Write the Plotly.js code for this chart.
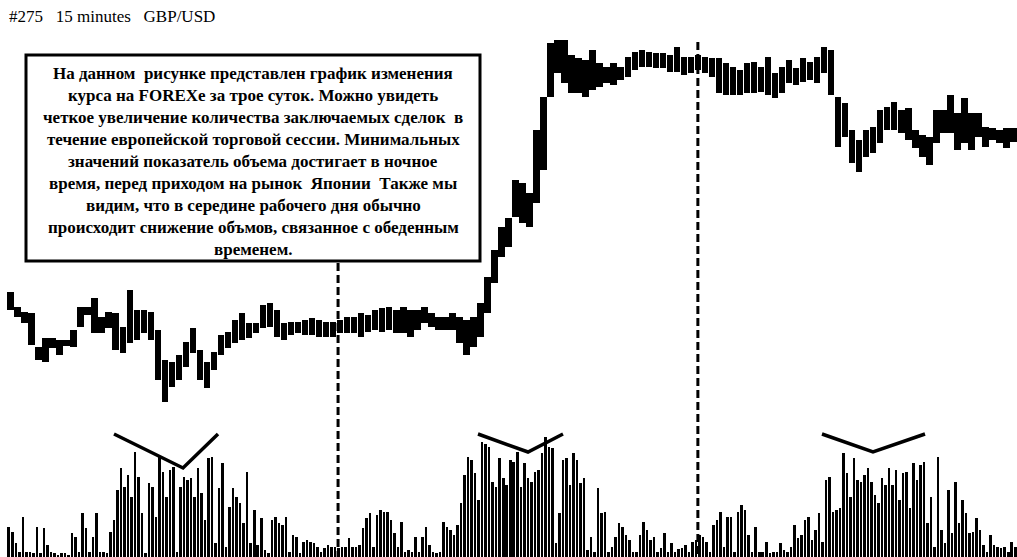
<!DOCTYPE html>
<html><head><meta charset="utf-8">
<script src="https://cdn.plot.ly/plotly-3.0.1.min.js"></script>
<style>html,body{margin:0;padding:0;background:#fff}#chart{width:1017px;height:557px}</style>
</head><body><div id="chart"></div>
<script>
// GBP/USD, 15-minute chart, three days (price sampled per 30 min, volume per 15 min)
const priceHigh = [
1.4508,1.4493,1.4488,1.4487,1.4453,1.4462,1.4462,1.4460,1.4460,1.4470,
1.4493,1.4493,1.4502,1.4483,1.4488,1.4487,1.4473,1.4510,1.4490,1.4490,
1.4488,1.4470,1.4440,1.4438,1.4445,1.4458,1.4472,1.4450,1.4438,1.4448,
1.4465,1.4468,1.4480,1.4487,1.4477,1.4477,1.4495,1.4497,1.4490,1.4477,
1.4478,1.4478,1.4480,1.4482,1.4480,1.4478,1.4478,1.4480,1.4483,1.4483,
1.4487,1.4485,1.4490,1.4492,1.4493,1.4490,1.4493,1.4490,1.4490,1.4493,
1.4487,1.4483,1.4483,1.4487,1.4483,1.4480,1.4483,1.4497,1.4523,1.4550,
1.4573,1.4582,1.4620,1.4617,1.4607,1.4670,1.4703,1.4757,1.4760,1.4760,
1.4745,1.4742,1.4740,1.4750,1.4737,1.4733,1.4737,1.4733,1.4743,1.4748,
1.4750,1.4748,1.4747,1.4747,1.4745,1.4753,1.4743,1.4743,1.4745,1.4743,
1.4742,1.4742,1.4737,1.4733,1.4730,1.4737,1.4738,1.4733,1.4743,1.4727,
1.4733,1.4740,1.4732,1.4742,1.4738,1.4743,1.4753,1.4750,1.4703,1.4697,
1.4670,1.4660,1.4670,1.4673,1.4690,1.4693,1.4698,1.4690,1.4692,1.4670,
1.4665,1.4663,1.4690,1.4690,1.4705,1.4687,1.4702,1.4687,1.4687,1.4673,
1.4672,1.4670,1.4672,1.4672];
const priceLow = [
1.4490,1.4483,1.4477,1.4455,1.4440,1.4438,1.4452,1.4445,1.4454,1.4453,
1.4473,1.4485,1.4467,1.4467,1.4472,1.4450,1.4447,1.4457,1.4460,1.4467,
1.4460,1.4420,1.4398,1.4413,1.4420,1.4433,1.4447,1.4420,1.4412,1.4430,
1.4445,1.4452,1.4457,1.4460,1.4462,1.4467,1.4472,1.4473,1.4463,1.4460,
1.4465,1.4467,1.4465,1.4465,1.4463,1.4463,1.4463,1.4467,1.4467,1.4467,
1.4463,1.4468,1.4470,1.4468,1.4470,1.4467,1.4467,1.4463,1.4470,1.4477,
1.4473,1.4470,1.4470,1.4470,1.4457,1.4445,1.4453,1.4463,1.4487,1.4517,
1.4543,1.4553,1.4583,1.4577,1.4573,1.4597,1.4630,1.4703,1.4727,1.4717,
1.4707,1.4707,1.4703,1.4710,1.4713,1.4717,1.4715,1.4720,1.4723,1.4730,
1.4733,1.4733,1.4732,1.4732,1.4728,1.4728,1.4725,1.4727,1.4730,1.4727,
1.4723,1.4707,1.4705,1.4705,1.4705,1.4707,1.4707,1.4708,1.4705,1.4702,
1.4707,1.4717,1.4715,1.4718,1.4720,1.4717,1.4727,1.4705,1.4653,1.4663,
1.4637,1.4628,1.4643,1.4647,1.4657,1.4670,1.4670,1.4667,1.4660,1.4652,
1.4643,1.4635,1.4657,1.4667,1.4667,1.4650,1.4657,1.4650,1.4663,1.4653,
1.4660,1.4657,1.4652,1.4658];
const volume = [
30,25,14, 5,40,5, 5,4,30, 4,29,12, 5,4,2, 4,4,2, 24,20,5, 44,29,5,
20,44,5, 5,4,25, 37,67,89, 70,82,60, 105,80,44, 4,74,70, 40,100,85, 60,87,90,
5,70,80, 77,79,60, 89,64,37, 99,100,14, 69,94,10, 50,69,60, 54,34,85, 14,47,12,
39,7,4, 37,40,34, 32,40,5, 22,20,4, 15,17,15, 14,10,5, 9,12,10, 10,9,10,
10,19,10, 10,12,29, 39,44,10, 42,47,45, 45,37,24, 10,35,5, 7,5,20, 5,20,30,
12,5,4, 5,35,30, 27,22,32, 54,82,100, 97,84,57, 115,113,110, 75,70,99, 79,72,97,
95,105,70, 94,79,75, 85,87,104, 120,110,109, 14,44,97, 99,72,104, 97,74,79, 7,20,5,
69,44,45, 5,10,20, 34,30,22, 17,5,5, 22,35,27, 17,20,5, 9,24,5, 14,5,8,
9,12,5, 15,17,22, 20,15,5, 32,37,45, 10,40,40, 5,45,52, 47,22,5, 30,5,5,
15,4,5, 5,14,7, 5,10,32, 19,22,37, 40,17,27, 44,15,77, 80,45,47, 49,104,84,
60,99,77, 75,82,89, 75,62,54, 79,72,89, 72,87,57, 84,85,49, 94,77,92, 95,34,60,
10,100,27, 14,67,24, 75,34,57, 44,24,25, 39,27,12, 5,22,12, 10,9,10, 5,15,10];
// session boundaries, in 30-minute bar positions
const sessionBreaks = [46.7, 98.0];
const titleText = '#275\u00A0\u00A0\u00A015\u00A0minutes\u00A0\u00A0\u00A0GBP/USD';
const noteLines = [
 'На данном \u00A0рисунке представлен график изменения',
 'курса на FOREXe за трое суток. Можно увидеть',
 'четкое увеличение количества заключаемых сделок \u00A0в',
 'течение европейской торговой сессии. Минимальных',
 'значений показатель объема достигает в ночное',
 'время, перед приходом на рынок \u00A0Японии \u00A0Также мы',
 'видим, что в середине рабочего дня обычно',
 'происходит снижение объмов, связанное с обеденным',
 'временем.'
];

const W = 1017, H = 557;
const px = v => v / W, py = v => 1 - v / H;

const priceX = priceHigh.map((_, i) => i);
const volX = volume.map((_, k) => k * 0.5 - 0.25);

const traces = [
  {type: 'bar', x: priceX, base: priceLow, y: priceHigh.map((h, i) => h - priceLow[i]),
   width: 0.92, marker: {color: '#000', line: {width: 0}}, yaxis: 'y', hoverinfo: 'skip'},
  {type: 'bar', x: volX, y: volume, width: 0.36,
   marker: {color: '#000', line: {width: 0}}, yaxis: 'y2', hoverinfo: 'skip'}
];

const shapes = [];
sessionBreaks.forEach((b, j) => {
  shapes.push({type: 'line', xref: 'x', yref: 'paper', x0: b, x1: b,
    y0: j === 0 ? py(263) : py(42), y1: 0,
    line: {color: '#000', width: 3, dash: '8px,4px'}});
});
// hand-drawn "V" marks above the volume peaks
[[114,434,183,468,218,434],[478,434,528,452,563,434],[822,434,873,452,925,434]].forEach(v => {
  shapes.push({type: 'path', xref: 'paper', yref: 'paper',
    path: `M ${px(v[0])} ${py(v[1])} L ${px(v[2])} ${py(v[3])} L ${px(v[4])} ${py(v[5])}`,
    line: {color: '#000', width: 3.5}});
});
// note box
shapes.push({type: 'rect', xref: 'paper', yref: 'paper', x0: px(26), x1: px(480), y0: py(261), y1: py(55),
  line: {color: '#000', width: 3}, fillcolor: '#fff', layer: 'above'});

const annotations = [{
  xref: 'paper', yref: 'paper', x: px(7), y: py(17), xanchor: 'left', yanchor: 'middle',
  text: titleText, showarrow: false, font: {family: 'Liberation Serif, serif', size: 17, color: '#000'}
}];
noteLines.forEach((t, i) => {
  annotations.push({xref: 'paper', yref: 'paper', x: px(253), y: py(74 + i * 21.9),
    xanchor: 'center', yanchor: 'middle', text: '<b>' + t + '</b>', showarrow: false,
    font: {family: 'Liberation Serif, serif', size: 17, color: '#000'}});
});

const layout = {
  width: W, height: H, margin: {l: 0, r: 0, t: 0, b: 0},
  paper_bgcolor: '#fff', plot_bgcolor: '#fff', showlegend: false, bargap: 0,
  xaxis: {range: [-1.498, 143.5], visible: false, fixedrange: true},
  yaxis: {domain: [py(410), py(30)], range: [1.4390, 1.4770], visible: false},
  yaxis2: {domain: [0, py(430)], range: [0, 127], visible: false},
  shapes, annotations
};
Plotly.newPlot('chart', traces, layout, {staticPlot: true, displayModeBar: false});
</script></body></html>
